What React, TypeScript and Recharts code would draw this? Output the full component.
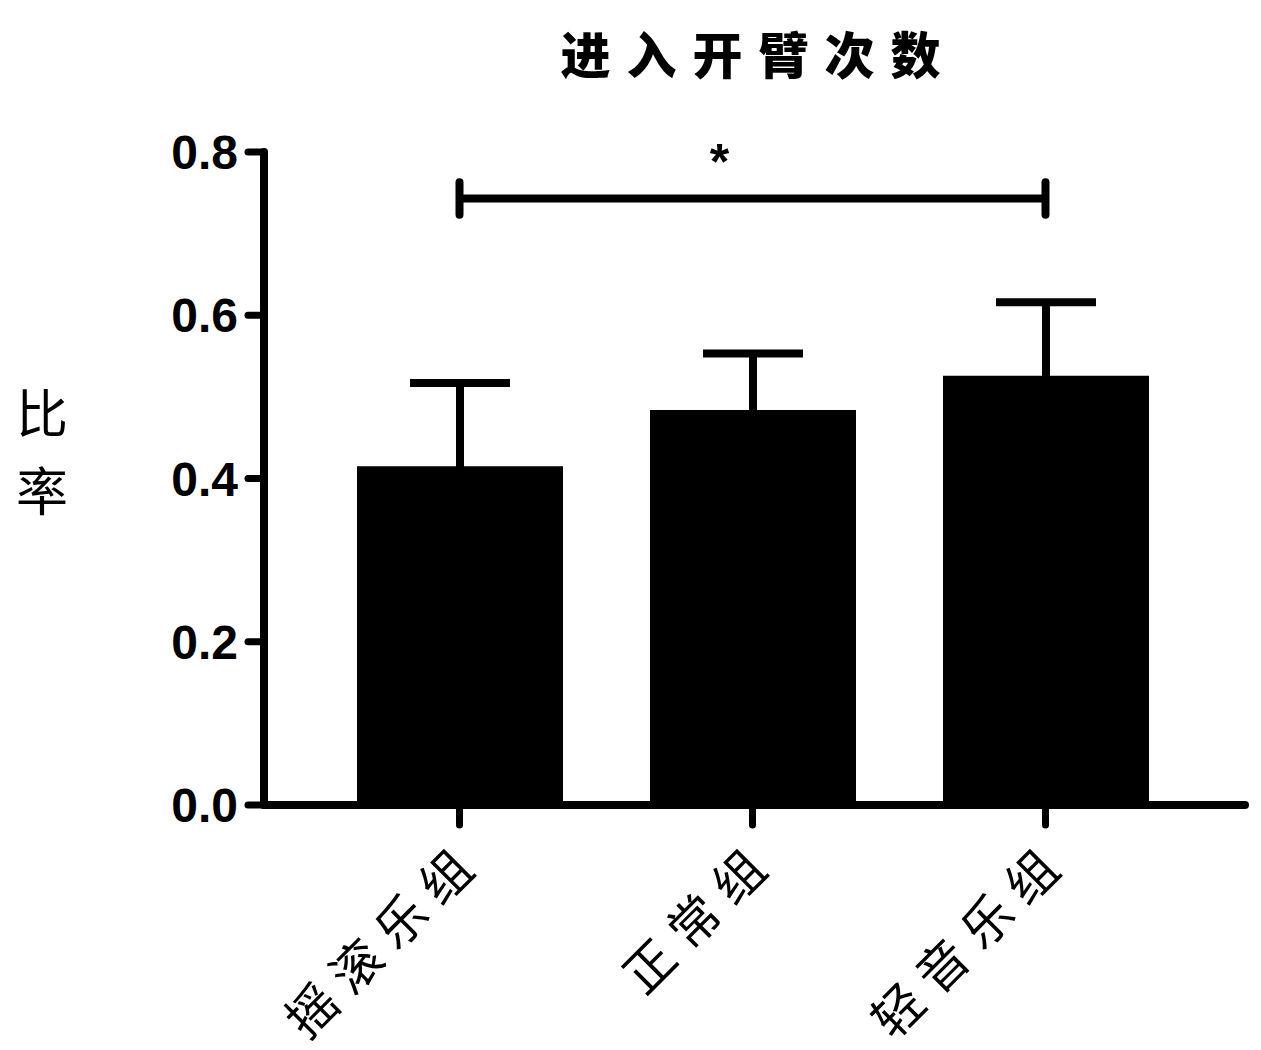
import React from 'react';
import { BarChart, Bar, XAxis, YAxis, ErrorBar, ReferenceLine } from 'recharts';

// group means and SEM
const groups = ['摇滚乐组', '正常组', '轻音乐组'];
const means = [0.415, 0.484, 0.526];
const sems = [0.102, 0.069, 0.090];
const yTicks = [0, 0.2, 0.4, 0.6, 0.8];

// significance bracket between rock and light music
const sigFrom = '摇滚乐组';
const sigTo = '轻音乐组';
const sigLevel = 0.743;
const sigCap = 0.02;
const sigMark = '*';

// lower half of each error bar sits inside the black bar
const data = groups.map((g, i) => ({ group: g, mean: means[i], err: sems[i] }));

const CJK = '"Noto Sans CJK SC", "Noto Sans", sans-serif';

const GroupTick = (props: any) => {
  const { x, y, payload } = props;
  return (
    <g transform={`translate(${x + 26},${y + 36})`}>
      <text
        textAnchor="end"
        transform="rotate(-45)"
        fontSize={50}
        fontFamily={CJK}
        letterSpacing={13}
        fill="#000"
      >
        {payload.value}
      </text>
    </g>
  );
};

const YTitle = () => (
  <g>
    <text x={42} y={410} textAnchor="middle" dominantBaseline="central" fontSize={52} fontFamily={CJK} fill="#000">比</text>
    <text x={42} y={488} textAnchor="middle" dominantBaseline="central" fontSize={52} fontFamily={CJK} fill="#000">率</text>
  </g>
);

const App: React.FC = () => {
  const axisStyle = { stroke: '#000', strokeWidth: 8, strokeLinecap: 'round' as const };
  const tickStyle = { stroke: '#000', strokeWidth: 7, strokeLinecap: 'round' as const };

  return (
    <div style={{ position: 'absolute', left: 0, top: 0, width: 1261, height: 1050, background: '#fff' }}>
      <div
        style={{
          position: 'absolute',
          left: 260,
          width: 981,
          top: 20,
          textAlign: 'center',
          fontFamily: CJK,
          fontWeight: 900,
          fontSize: 50,
          letterSpacing: 16,
          paddingLeft: 16,
          boxSizing: 'border-box',
          lineHeight: '64px',
        }}
      >
        进入开臂次数
      </div>
      <BarChart
        width={1261}
        height={1050}
        data={data}
        margin={{ top: 152, right: 16, bottom: 0, left: 0 }}
        barSize={206}
      >
        <XAxis
          dataKey="group"
          height={245}
          padding={{ left: 49, right: 53 }}
          axisLine={axisStyle}
          tickLine={tickStyle}
          tickSize={20}
          tick={<GroupTick />}
          interval={0}
        />
        <YAxis
          width={264}
          domain={[0, 0.8]}
          ticks={yTicks}
          axisLine={axisStyle}
          tickLine={tickStyle}
          tickSize={16}
          tickMargin={10}
          tickFormatter={(v: number) => v.toFixed(1)}
          tick={{ fill: '#000', fontSize: 48, fontWeight: 'bold', fontFamily: 'Liberation Sans, Arial, sans-serif' }}
          label={{ content: () => <YTitle /> }}
        />
        <Bar dataKey="mean" fill="#000" isAnimationActive={false}>
          <ErrorBar dataKey="err" width={50} stroke="#000" strokeWidth={8} direction="y" />
        </Bar>
        <ReferenceLine
          segment={[{ x: sigFrom, y: sigLevel }, { x: sigTo, y: sigLevel }]}
          stroke="#000"
          strokeWidth={8}
          label={{ value: sigMark, position: 'top', offset: 20, dx: -33, fontSize: 50, fontWeight: 'bold', fill: '#000', fontFamily: 'Liberation Sans, Arial, sans-serif' }}
        />
        <ReferenceLine
          segment={[{ x: sigFrom, y: sigLevel - sigCap }, { x: sigFrom, y: sigLevel + sigCap }]}
          stroke="#000"
          strokeWidth={8}
          strokeLinecap="round"
        />
        <ReferenceLine
          segment={[{ x: sigTo, y: sigLevel - sigCap }, { x: sigTo, y: sigLevel + sigCap }]}
          stroke="#000"
          strokeWidth={8}
          strokeLinecap="round"
        />
      </BarChart>
    </div>
  );
};

export default App;
